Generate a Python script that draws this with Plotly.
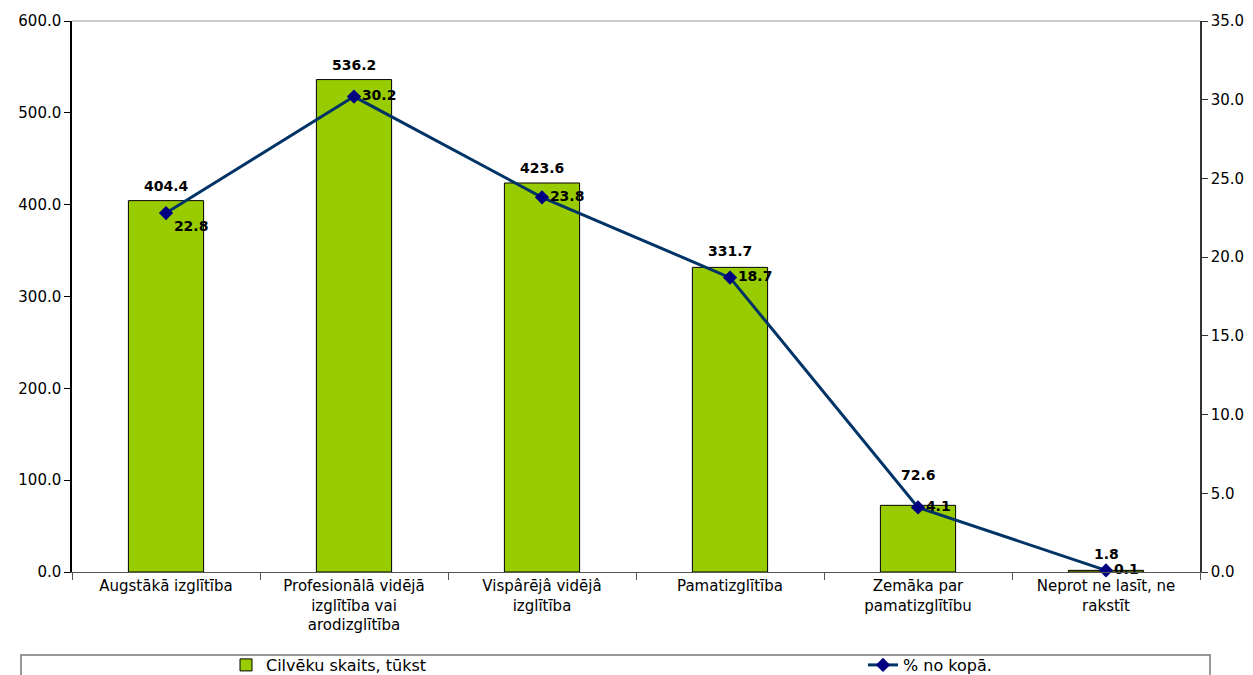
import plotly.graph_objects as go

categories = [
    "Augstākā izglītība",
    "Profesionālā vidējā<br>izglītība vai<br>arodizglītība",
    "Vispârējâ vidējâ<br>izglītība",
    "Pamatizglītība",
    "Zemāka par<br>pamatizglītību",
    "Neprot ne lasīt, ne<br>rakstīt",
]
people_thousands = [404.4, 536.2, 423.6, 331.7, 72.6, 1.8]
percent_of_total = [22.8, 30.2, 23.8, 18.7, 4.1, 0.1]
percent_label_pos = ["bottom right", "middle right", "middle right",
                     "middle right", "middle right", "middle right"]
# vertical offset (px) of each bar's value label above the bar top
bar_label_shift = [15, 15, 15, 16, 30, 16]

bar_name = "Cilvēku skaits, tūkst"
line_name = "% no kopā."

FONT = "DejaVu Sans, Liberation Sans, Arial, sans-serif"

W, H = 1253, 675
ML, MR, MT, MB = 72, 53, 21, 103
PW = W - ML - MR
PH = H - MT - MB

fig = go.Figure()

fig.add_trace(go.Bar(
    x=categories,
    y=people_thousands,
    name=bar_name,
    width=0.4,
    marker=dict(color="#99CC00", line=dict(color="#000000", width=1)),
    yaxis="y",
    legend="legend",
))

fig.add_trace(go.Scatter(
    x=categories,
    y=percent_of_total,
    name=line_name,
    mode="lines+markers+text",
    line=dict(color="#003366", width=3),
    marker=dict(symbol="diamond", size=11, color="#000080"),
    text=[f"{v:.1f}" for v in percent_of_total],
    textposition=percent_label_pos,
    textfont=dict(family=FONT, size=14, color="#000000", weight="bold"),
    cliponaxis=False,
    yaxis="y2",
    legend="legend2",
))

label_font = dict(family=FONT, size=14, color="#000000", weight="bold")
annotations = [
    dict(x=c, y=v, xref="x", yref="y", text=f"{v:.1f}", showarrow=False,
         yanchor="middle", yshift=s, font=label_font)
    for c, v, s in zip(categories, people_thousands, bar_label_shift)
]

tick_font = dict(family=FONT, size=15, color="#000000")
cat_font = dict(family=FONT, size=15, color="#000000")
legend_font = dict(family=FONT, size=16, color="#000000")

fig.update_layout(
    width=W,
    height=H,
    margin=dict(l=ML, r=MR, t=MT, b=MB, autoexpand=False),
    paper_bgcolor="#ffffff",
    plot_bgcolor="#ffffff",
    font=dict(family=FONT, size=15, color="#000000"),
    bargap=0.6,
    showlegend=True,
    annotations=annotations,
    xaxis=dict(
        type="category",
        automargin=False,
        tickfont=cat_font,
        ticks="outside",
        tickson="boundaries",
        ticklen=7,
        tickcolor="#555555",
        showline=True,
        linecolor="#555555",
        linewidth=1,
        showgrid=False,
        zeroline=False,
    ),
    yaxis=dict(
        range=[0, 600],
        dtick=100,
        tickformat=".1f",
        automargin=False,
        tickfont=tick_font,
        ticks="outside",
        ticklen=6,
        tickcolor="#000000",
        showline=True,
        linecolor="#000000",
        linewidth=1.5,
        showgrid=False,
        zeroline=False,
    ),
    yaxis2=dict(
        range=[0, 35],
        dtick=5,
        tickformat=".1f",
        automargin=False,
        tickfont=tick_font,
        overlaying="y",
        side="right",
        ticks="outside",
        ticklen=6,
        tickcolor="#333333",
        showline=True,
        linecolor="#333333",
        linewidth=1.5,
        showgrid=False,
        zeroline=False,
    ),
    legend=dict(
        xref="container", yref="container",
        x=226 / W, xanchor="left",
        y=(H - 665) / H, yanchor="middle",
        font=legend_font,
        bgcolor="rgba(0,0,0,0)",
        borderwidth=0,
        tracegroupgap=0,
    ),
    legend2=dict(
        xref="container", yref="container",
        x=863 / W, xanchor="left",
        y=(H - 665) / H, yanchor="middle",
        font=legend_font,
        bgcolor="rgba(0,0,0,0)",
        borderwidth=0,
        tracegroupgap=0,
    ),
    shapes=[
        # top frame line of the plotting area
        dict(type="line", xref="paper", yref="paper", x0=0, x1=1, y0=1, y1=1,
             line=dict(color="#999999", width=1)),
        # legend frame
        dict(type="rect", xref="paper", yref="paper",
             x0=(21 - ML) / PW, x1=(1210 - ML) / PW,
             y0=(MT + PH - 690) / PH, y1=(MT + PH - 655) / PH,
             line=dict(color="#777777", width=1.5), fillcolor="rgba(0,0,0,0)"),
    ],
)

fig.write_html("out.html")
